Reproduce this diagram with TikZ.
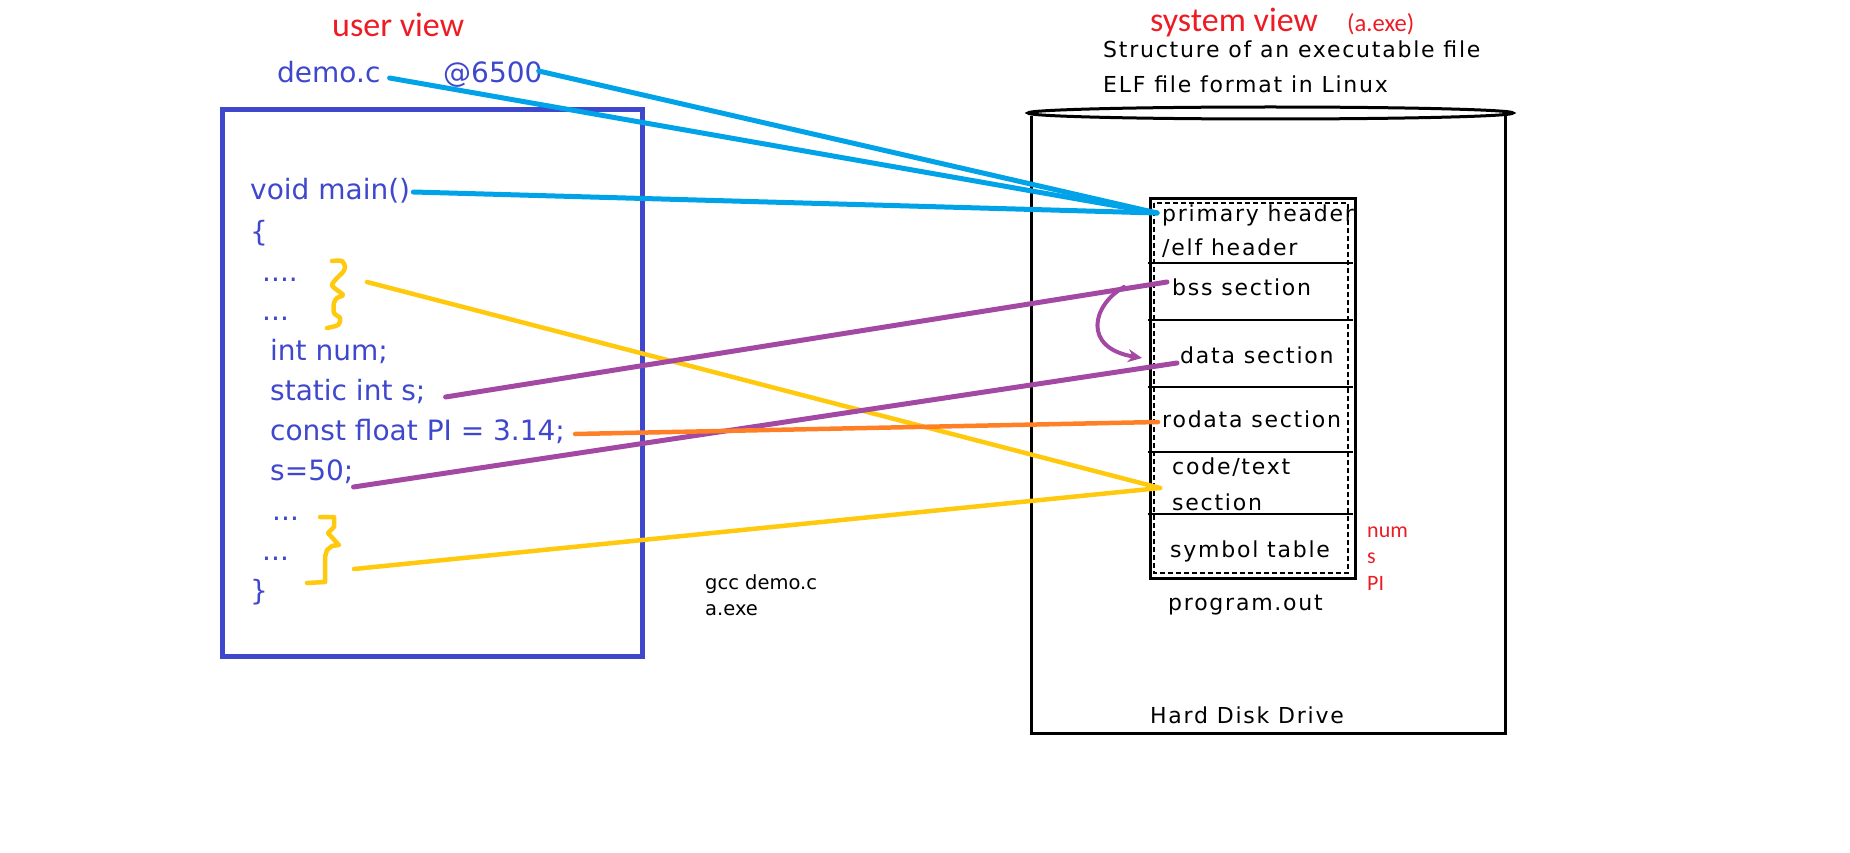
\documentclass[tikz,border=0pt]{standalone}
\usepackage{fontspec}
\usetikzlibrary{arrows.meta}
\newfontfamily\codefont{DejaVu Sans}
\newfontfamily\handfont[LetterSpace=8]{DejaVu Sans}
\newfontfamily\notefont{Carlito}
\definecolor{codeblue}{RGB}{63,72,204}
\definecolor{linkblue}{RGB}{0,162,232}
\definecolor{markyellow}{RGB}{255,201,14}
\definecolor{markpurple}{RGB}{163,73,164}
\definecolor{markorange}{RGB}{255,127,39}
\definecolor{notered}{RGB}{237,28,36}
\tikzset{%
  code/.style={anchor=base west, inner sep=0pt, text=codeblue, font=\codefont\fontsize{28}{34}\selectfont},
  cmd/.style={anchor=base west, inner sep=0pt, font=\codefont\fontsize{19.5}{26}\selectfont},
  handtext/.style={anchor=base west, inner sep=0pt, font=\handfont\fontsize{22}{26}\selectfont},
  note/.style={anchor=base west, inner sep=0pt, text=notered, font=\notefont\fontsize{34}{40}\selectfont},
  smallnote/.style={note, font=\notefont\fontsize{22}{26}\selectfont},
  codebox/.style={draw=codeblue, line width=5pt},
  hdd/.style={draw, line width=3pt},
  sectline/.style={draw, line width=1.5pt},
  blueline/.style={draw=linkblue, line width=5pt, line cap=round},
  purpleline/.style={draw=markpurple, line width=5pt, line cap=round},
  yellowline/.style={draw=markyellow, line width=4.5pt, line cap=round, line join=round},
  orangeline/.style={draw=markorange, line width=4.5pt, line cap=round},
  purplearrow/.style={draw=markpurple, line width=4pt, line cap=round, -{Stealth[length=14pt, width=13pt]}}}

\begin{document}
\begin{tikzpicture}[x=1pt, y=-1pt]
  \useasboundingbox (0,0) rectangle (1850,853);

  % user view: the source file
  \node [note] (userview) at (332,37) {user view};
  \node [code] (democ) at (277,83) {demo.c};
  \node [code] (addr) at (443,83) {@6500};
  \draw [codebox] (222,110) rectangle (642,656);
  \node [code] (main) at (250,200) {void main()};
  \node [code] (open) at (250,241) {\{};
  \node [code] (dotsa) at (262,281) {....};
  \node [code] (dotsb) at (262,320) {...};
  \node [code] (num) at (270,360) {int num;};
  \node [code] (stat) at (270,400) {static int s;};
  \node [code] (constpi) at (270,440) {const float PI = 3.14;};
  \node [code] (assign) at (270,480) {s=50;};
  \node [code] (dotsc) at (272,520) {...};
  \node [code] (dotsd) at (262,560) {...};
  \node [code] (close) at (250,600) {\}};

  % hand drawn braces round the code lines
  \draw [yellowline] plot [smooth] coordinates {(332,261) (342,261) (345,267) (343,272) (337,278) (332,285) (337,290) (343,295) (337,298) (334,303) (334,313) (340,318) (338,325) (327,328)};
  \draw [yellowline] (320,517) -- (334,517) -- (334,527) -- (328,533) -- (337,543) -- (339,545) -- (332,546) -- (327,550) -- (325,557) -- (325,582) -- (307,583);
  \coordinate (bracea) at (367,282);
  \coordinate (braceb) at (354,569);

  \node [cmd] (gcc) at (705,589) {gcc demo.c};
  \node [cmd] (aexe) at (705,615) {a.exe};

  % system view: the executable on disk
  \node [note] (sysview) at (1150,32) {system view};
  \node [note, font=\notefont\fontsize{24.6}{30}\selectfont] (exe) at (1347,32) {(a.exe)};
  \node [handtext] (structure) at (1103,58) {Structure of an executable file};
  \node [handtext] (elf) at (1103,93) {ELF file format in Linux};

  \draw [hdd] (1270.5,113) ellipse [x radius=242.5, y radius=6];
  \draw [hdd] (1031,116) -- (1031,733) -- (1505,733) -- (1505,116);
  \node [handtext] (disk) at (1150,723) {Hard Disk Drive};

  \draw [line width=3pt] (1150,199) rectangle (1355,578);
  \draw [line width=2.5pt, dash pattern=on 5pt off 3pt] (1154,203) rectangle (1348,573);
  \foreach \y in {263, 320, 387, 452, 514}
    \draw [sectline] (1148,\y) -- (1353,\y);

  \node [handtext] (header) at (1162,222) {primary header};
  \node [handtext] (elfheader) at (1162,255) {/elf header};
  \node [handtext] (bss) at (1172,295) {bss section};
  \node [handtext] (data) at (1180,363) {data section};
  \node [handtext] (rodata) at (1162,427) {rodata section};
  \node [handtext] (code) at (1172,474) {code/text};
  \node [handtext] (codesec) at (1172,510) {section};
  \node [handtext] (symtab) at (1170,557) {symbol table};
  \node [handtext] (prog) at (1168,610) {program.out};
  \foreach \v [count=\k] in {num, s, PI}
    \node [smallnote] (sym\k) at (1367, {537 + 26.5*(\k-1)}) {\v};

  % connectors
  \draw [blueline] ([shift={(9,-5)}]democ.base east) -- ([shift={(-5,-9)}]header.base west);
  \draw [blueline] ([shift={(-4,-12)}]addr.base east) -- ([shift={(-5,-9)}]header.base west);
  \draw [blueline] ([shift={(3,-8)}]main.base east) -- ([shift={(-5,-9)}]header.base west);
  \draw [yellowline] (bracea) -- ([shift={(-12,14)}]code.base west);
  \draw [yellowline] (braceb) -- ([shift={(-12,14)}]code.base west);
  \draw [purpleline] ([shift={(20,-3)}]stat.base east) -- ([shift={(-5,-13)}]bss.base west);
  \draw [purpleline] ([shift={(0,7)}]assign.base east) -- ([shift={(-3,0)}]data.base west);
  \draw [orangeline] ([shift={(10,-6)}]constpi.base east) -- ([shift={(-4,-5)}]rodata.base west);
  \coordinate (loopstart) at (1124,287);
  \draw [purplearrow] (loopstart) .. controls (1092,305) and (1082,348) .. ([shift={(-38,-5)}]data.base west);
\end{tikzpicture}
\end{document}
